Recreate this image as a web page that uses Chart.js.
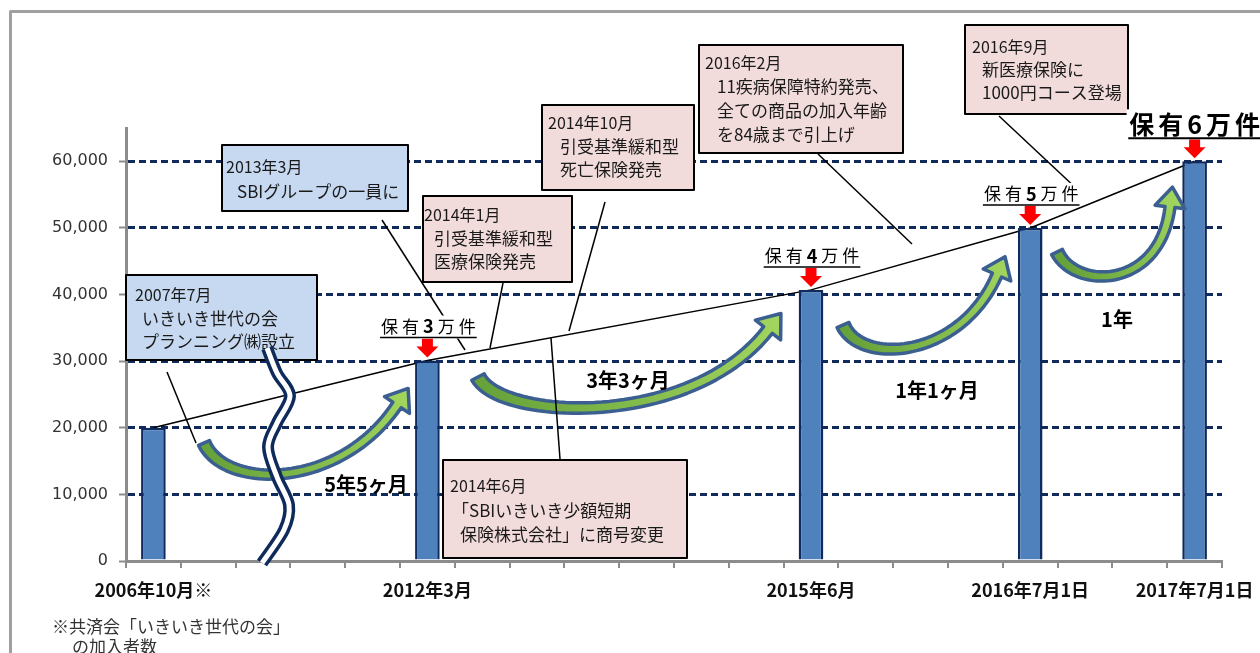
<!DOCTYPE html>
<html lang="ja">
<head>
<meta charset="utf-8">
<title>保有件数の推移</title>
<script src="https://cdn.jsdelivr.net/npm/chart.js@4.4.0/dist/chart.umd.min.js"></script>
<style>
  html, body { margin: 0; padding: 0; background: #fff; }
  #wrap { width: 1260px; height: 653px; }
</style>
</head>
<body>
<div id="wrap"><canvas id="holdingsChart" width="1260" height="653"></canvas></div>
<script>
// --- data ---
const periods = ['2006年10月※', '', '', '', '', '2012年3月', '', '', '', '', '', '', '2015年6月', '', '', '', '2016年7月1日', '', '', '2017年7月1日'];
const holdings = [20000, null, null, null, null, 30100, null, null, null, null, null, null, 40700, null, null, null, 50000, null, null, 60000];
const milestones = [null, null, null, null, null, '3', null, null, null, null, null, null, '4', null, null, null, '5', null, null, '6'];
const yTicks = [0, 10000, 20000, 30000, 40000, 50000, 60000];
const yMax = 65000;

const eventTitles = ['2007年7月', '2013年3月', '2014年1月', '2014年10月', '2014年6月', '2016年2月', '2016年9月'];
const eventTexts = [
    ['いきいき世代の会', 'プランニング㈱設立'],
    ['SBIグループの一員に'],
    ['引受基準緩和型', '医療保険発売'],
    ['引受基準緩和型', '死亡保険発売'],
    ['「SBIいきいき少額短期', '保険株式会社」に商号変更'],
    ['11疾病保障特約発売、', '全ての商品の加入年齢', 'を84歳まで引上げ'],
    ['新医療保険に', '1000円コース登場']
];
const intervals = ['5年5ヶ月', '3年3ヶ月', '1年1ヶ月', '1年'];
const footnote = ['※共済会「いきいき世代の会」', 'の加入者数'];

// --- layout of the decorations (pixels) ---
const BLUE_BOX = '#C6D9F1', PINK_BOX = '#F2DCDB';
const boxLayout = [
    { x: 126, y: 275, w: 191, h: 85, fill: BLUE_BOX, tx: 135, dx: 142, ty: 295, gap: 23.5 },
    { x: 222, y: 145, w: 186, h: 66, fill: BLUE_BOX, tx: 226, dx: 237, ty: 167, gap: 25 },
    { x: 423, y: 196, w: 149, h: 86, fill: PINK_BOX, tx: 424, dx: 434, ty: 215, gap: 23.5 },
    { x: 542, y: 105, w: 152, h: 85, fill: PINK_BOX, tx: 548, dx: 560, ty: 123, gap: 23.5 },
    { x: 443, y: 460, w: 244, h: 98, fill: PINK_BOX, tx: 450, dx: 460, ty: 486, gap: 24.5 },
    { x: 699, y: 45, w: 204, h: 108, fill: PINK_BOX, tx: 705, dx: 717, ty: 63, gap: 24 },
    { x: 965, y: 25, w: 163, h: 89, fill: PINK_BOX, tx: 972, dx: 982, ty: 47, gap: 23 }
];
const calloutLayout = [
    [167, 372, 196, 443], [382, 220, 465, 350], [503, 283, 490, 348], [605, 202, 569, 331],
    [560, 459, 551, 338], [818, 154, 912, 244], [999, 116, 1078, 190]
];
const intervalLayout = [[366, 484], [628, 380], [937, 390], [1117, 319]];
const bendLayout = [
    { p: [[204, 443], [225, 490], [340, 490], [397, 405]], w: [12, 7, 10], head: [30, 20] },
    { p: [[478, 377], [500, 420], [690, 430], [768, 330]], w: [14, 8, 11], head: [32, 21] },
    { p: [[843, 325], [860, 365], [960, 360], [997, 275]], w: [13, 7, 10], head: [30, 20] },
    { p: [[1057, 252], [1075, 290], [1160, 290], [1170, 207]], w: [12, 7, 10], head: [30, 20] }
];
const breakPath = [[267, 348], [277, 373], [290, 396], [277, 423], [268, 447], [277, 477], [289, 505], [284, 530], [262, 563]];

const JP = "'Noto Sans CJK JP', 'Noto Sans', sans-serif";

// --- helpers ---
function cubicPt(p, t) {
    const u = 1 - t;
    return [0, 1].map(k => u * u * u * p[0][k] + 3 * u * u * t * p[1][k] + 3 * u * t * t * p[2][k] + t * t * t * p[3][k]);
}
function cubicDir(p, t) {
    const u = 1 - t;
    const d = [0, 1].map(k => 3 * u * u * (p[1][k] - p[0][k]) + 6 * u * t * (p[2][k] - p[1][k]) + 3 * t * t * (p[3][k] - p[2][k]));
    const len = Math.hypot(d[0], d[1]);
    return [d[0] / len, d[1] / len];
}

function drawBend(ctx, b) {
    const N = 48, left = [], right = [];
    for (let k = 0; k <= N; k++) {
        const t = k / N, u = 1 - t;
        const pt = cubicPt(b.p, t), d = cubicDir(b.p, t);
        const w = (b.w[0] * u * u + 2 * b.w[1] * u * t + b.w[2] * t * t) / 2;
        left.push([pt[0] - d[1] * w, pt[1] + d[0] * w]);
        right.push([pt[0] + d[1] * w, pt[1] - d[0] * w]);
    }
    const end = b.p[3], d = cubicDir(b.p, 1);
    const hw = b.head[0] / 2, tip = [end[0] + d[0] * b.head[1], end[1] + d[1] * b.head[1]];
    ctx.beginPath();
    ctx.moveTo(left[0][0], left[0][1]);
    left.forEach(q => ctx.lineTo(q[0], q[1]));
    ctx.lineTo(end[0] - d[1] * hw, end[1] + d[0] * hw);
    ctx.lineTo(tip[0], tip[1]);
    ctx.lineTo(end[0] + d[1] * hw, end[1] - d[0] * hw);
    for (let k = N; k >= 0; k--) ctx.lineTo(right[k][0], right[k][1]);
    ctx.closePath();
    const g = ctx.createLinearGradient(b.p[0][0], b.p[0][1], tip[0], tip[1]);
    g.addColorStop(0, '#66A23A');
    g.addColorStop(1, '#A2D65E');
    ctx.fillStyle = g;
    ctx.fill();
    ctx.lineJoin = 'round';
    ctx.lineWidth = 3.5;
    ctx.strokeStyle = '#3B5F90';
    ctx.stroke();
}

function smoothPath(ctx, pts) {
    ctx.moveTo(pts[0][0], pts[0][1]);
    for (let i = 0; i < pts.length - 1; i++) {
        const p0 = pts[i - 1] || pts[i], p1 = pts[i], p2 = pts[i + 1], p3 = pts[i + 2] || p2;
        ctx.bezierCurveTo(
            p1[0] + (p2[0] - p0[0]) / 6, p1[1] + (p2[1] - p0[1]) / 6,
            p2[0] - (p3[0] - p1[0]) / 6, p2[1] - (p3[1] - p1[1]) / 6,
            p2[0], p2[1]);
    }
}

function spacedText(ctx, parts, cx, cy, spacing) {
    const chars = [];
    parts.forEach(p => { for (const ch of p.t) chars.push({ ch, font: p.font }); });
    const widths = chars.map(c => { ctx.font = c.font; return ctx.measureText(c.ch).width; });
    const total = widths.reduce((a, b) => a + b, 0) + spacing * (chars.length - 1);
    let x = cx - total / 2;
    ctx.textAlign = 'left';
    ctx.textBaseline = 'middle';
    chars.forEach((c, i) => {
        ctx.font = c.font;
        ctx.fillText(c.ch, x, cy);
        x += widths[i] + spacing;
    });
    return [cx - total / 2, cx + total / 2];
}

// --- decorations plugin ---
const decorations = {
    id: 'decorations',
    afterDraw(chart) {
        const ctx = chart.ctx;
        ctx.save();

        // curved green arrows
        bendLayout.forEach(b => drawBend(ctx, b));

        // callout lines
        ctx.strokeStyle = '#000';
        ctx.lineWidth = 1.5;
        calloutLayout.forEach(c => {
            ctx.beginPath();
            ctx.moveTo(c[0], c[1]);
            ctx.lineTo(c[2], c[3]);
            ctx.stroke();
        });

        // event boxes
        boxLayout.forEach((b, i) => {
            ctx.fillStyle = b.fill;
            ctx.fillRect(b.x, b.y, b.w, b.h);
            ctx.lineWidth = 2;
            ctx.strokeStyle = '#000';
            ctx.strokeRect(b.x, b.y, b.w, b.h);
            ctx.fillStyle = '#1a1a1a';
            ctx.textAlign = 'left';
            ctx.textBaseline = 'middle';
            ctx.font = `16px ${JP}`;
            ctx.fillText(eventTitles[i], b.tx, b.ty);
            ctx.font = `17px ${JP}`;
            eventTexts[i].forEach((line, j) => {
                // the opening bracket glyph sits on the right half of its cell
                const shift = line.startsWith('「') ? -8 : 0;
                ctx.fillText(line, b.dx + shift, b.ty + b.gap * (j + 1));
            });
        });

        // axis break
        ctx.beginPath();
        smoothPath(ctx, breakPath);
        ctx.lineCap = 'butt';
        ctx.lineJoin = 'round';
        ctx.strokeStyle = '#0F2B5B';
        ctx.lineWidth = 12;
        ctx.stroke();
        ctx.strokeStyle = '#fff';
        ctx.lineWidth = 5;
        ctx.stroke();

        // milestone arrows and labels
        const meta = chart.getDatasetMeta(0);
        milestones.forEach((m, i) => {
            if (!m) return;
            const el = meta.data[i];
            const big = i === milestones.length - 1;
            const x = el.x, tipY = el.y - 3, topY = tipY - 19;
            ctx.fillStyle = '#FF0000';
            ctx.beginPath();
            ctx.moveTo(x - 5.5, topY);
            ctx.lineTo(x + 5.5, topY);
            ctx.lineTo(x + 5.5, topY + 8);
            ctx.lineTo(x + 11, topY + 8);
            ctx.lineTo(x, tipY);
            ctx.lineTo(x - 11, topY + 8);
            ctx.lineTo(x - 5.5, topY + 8);
            ctx.closePath();
            ctx.fill();

            const lineY = topY - 1;
            const cy = lineY - (big ? 14 : 11);
            const reg = big ? `bold 25px ${JP}` : `17px ${JP}`;
            const num = big ? `bold 25px ${JP}` : `bold 18px ${JP}`;
            const parts = [{ t: '保有', font: reg }, { t: m, font: num }, { t: '万件', font: reg }];
            // white backing so callouts pass behind the label
            ctx.font = reg;
            const approx = ctx.measureText('保有万件').width + (big ? 16 : 11) + 16;
            ctx.fillStyle = '#fff';
            ctx.fillRect(x - approx / 2 - 2, cy - (big ? 15 : 11), approx + 4, (big ? 15 : 11) + (lineY - cy) + 1);
            ctx.fillStyle = '#000';
            const span = spacedText(ctx, parts, x + (big ? 0 : 1), cy, 4);
            ctx.strokeStyle = '#000';
            ctx.lineWidth = big ? 2 : 1.5;
            ctx.beginPath();
            ctx.moveTo(span[0] - 1, lineY);
            ctx.lineTo(span[1] + 1, lineY);
            ctx.stroke();
        });

        // interval labels
        ctx.fillStyle = '#000';
        ctx.font = `bold 20px ${JP}`;
        ctx.textAlign = 'center';
        ctx.textBaseline = 'middle';
        intervals.forEach((t, i) => ctx.fillText(t, intervalLayout[i][0], intervalLayout[i][1]));

        // footnote
        ctx.fillStyle = '#333';
        ctx.font = `17px ${JP}`;
        ctx.textAlign = 'left';
        ctx.fillText(footnote[0], 52, 627);
        ctx.fillText(footnote[1], 72, 647);

        // outer frame
        ctx.strokeStyle = '#A0A0A0';
        ctx.lineWidth = 3;
        ctx.beginPath();
        ctx.moveTo(10.5, 700);
        ctx.lineTo(10.5, 11.5);
        ctx.lineTo(1300, 11.5);
        ctx.stroke();

        ctx.restore();
    }
};

// --- chart ---
const ctx = document.getElementById('holdingsChart').getContext('2d');
new Chart(ctx, {
    type: 'bar',
    data: {
        labels: periods,
        datasets: [{
            type: 'bar',
            label: '保有件数',
            data: holdings,
            backgroundColor: '#4F81BD',
            borderColor: '#0E2A5E',
            borderWidth: 2.5,
            barPercentage: 0.45,
            categoryPercentage: 1.0,
            order: 1
        }, {
            type: 'line',
            label: '推移',
            data: holdings,
            spanGaps: true,
            borderColor: '#000',
            borderWidth: 1.5,
            pointRadius: 0,
            tension: 0,
            order: 2
        }]
    },
    options: {
        responsive: false,
        animation: false,
        layout: { padding: { left: 0, top: 128, right: 38, bottom: 0 } },
        plugins: { legend: { display: false }, tooltip: { enabled: false } },
        scales: {
            x: {
                offset: true,
                grid: { offset: true, drawOnChartArea: false, drawTicks: true, tickLength: 7, color: '#8C8C8C', lineWidth: 2 },
                border: { display: true, color: '#8C8C8C', width: 3 },
                ticks: {
                    autoSkip: false, maxRotation: 0, minRotation: 0, padding: 11,
                    color: '#111', font: { family: JP, size: 18, weight: 'bold' }
                },
                afterFit(scale) { scale.height = 92; scale.paddingLeft = 0; scale.paddingRight = 0; }
            },
            y: {
                min: 0, max: yMax,
                afterBuildTicks(scale) { scale.ticks = yTicks.map(v => ({ value: v })); },
                grid: {
                    color: c => (c.tick && c.tick.value === 0) ? 'rgba(0,0,0,0)' : '#112A5C',
                    lineWidth: 3, tickLength: 7, tickColor: '#8C8C8C', tickWidth: 2, tickBorderDash: []
                },
                border: { display: true, color: '#8C8C8C', width: 3, dash: [7, 4] },
                ticks: {
                    padding: 11, color: '#333',
                    font: { family: "'DejaVu Sans', sans-serif", size: 16 },
                    callback: v => v.toLocaleString('en-US')
                },
                afterFit(scale) { scale.width = 126; scale.paddingTop = 0; scale.paddingBottom = 0; }
            }
        }
    },
    plugins: [decorations]
});
</script>
</body>
</html>
